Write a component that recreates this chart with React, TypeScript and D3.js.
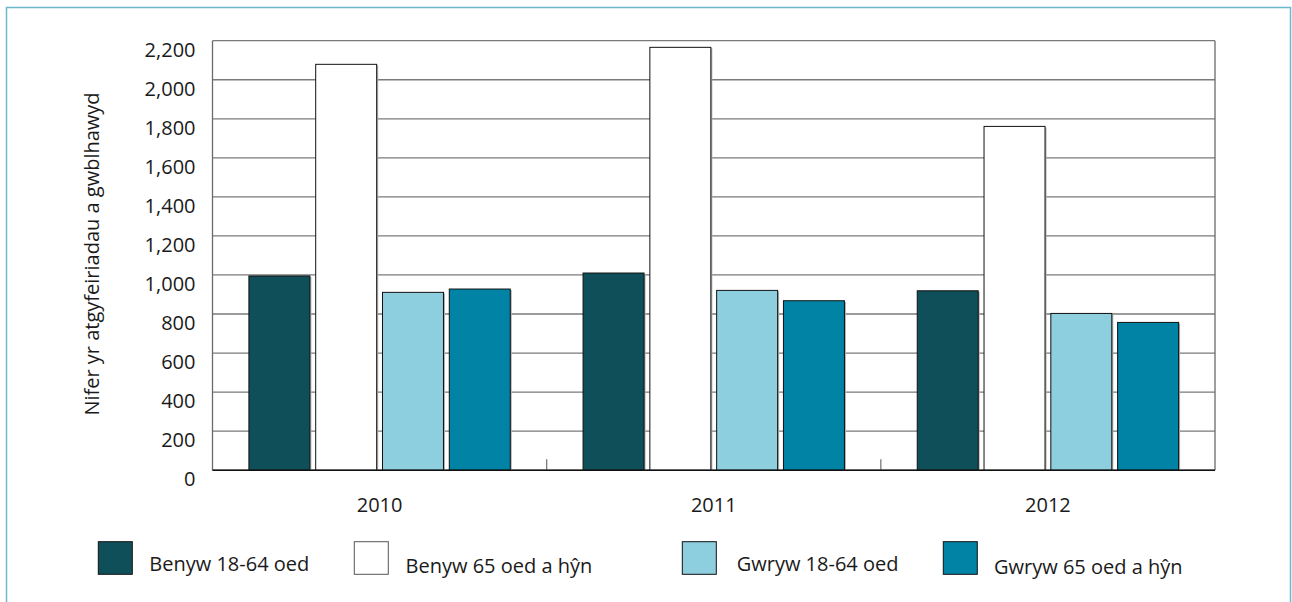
import React from "react";
import * as d3 from "d3";

const years = ["2010", "2011", "2012"];
const seriesNames = [
  "Benyw 18-64 oed",
  "Benyw 65 oed a hŷn",
  "Gwryw 18-64 oed",
  "Gwryw 65 oed a hŷn",
];
const benyw1864 = [995, 1010, 919];
const benyw65 = [2079, 2166, 1761];
const gwryw1864 = [911, 921, 803];
const gwryw65 = [928, 868, 757];
const seriesValues = [benyw1864, benyw65, gwryw1864, gwryw65];
const seriesColors = ["#0f4f59", "#ffffff", "#8dcfde", "#0083a4"];
const yTicks = [0, 200, 400, 600, 800, 1000, 1200, 1400, 1600, 1800, 2000, 2200];
const yTitle = "Nifer yr atgyfeiriadau a gwblhawyd";

const W = 1292;
const H = 602;
const plot = { left: 212.5, right: 1215, top: 40.7, bottom: 470.2 };
const FONT = "'Open Sans', 'Noto Sans', sans-serif";

// legend layout (swatch x, text x, text baseline)
const legendLayout = [
  { sx: 98.3, tx: 149.3, ty: 570.7 },
  { sx: 354.3, tx: 405.5, ty: 573 },
  { sx: 682.3, tx: 736.7, ty: 570.7 },
  { sx: 943.3, tx: 994, ty: 573.5 },
];

export default function App() {
  const x0 = d3
    .scaleBand<string>()
    .domain(years)
    .range([plot.left, plot.right])
    .paddingInner(0)
    .paddingOuter(0);
  const x1 = d3
    .scaleBand<string>()
    .domain(seriesNames)
    .range([0, x0.bandwidth()])
    .paddingInner(0.087)
    .paddingOuter(0.545);
  const y = d3.scaleLinear().domain([0, 2200]).range([plot.bottom, plot.top]);
  const fmt = d3.format(",");

  const boundaries = years.slice(1).map((yr) => x0(yr) as number);

  return (
    <svg
      width={W}
      height={H}
      style={{ position: "absolute", left: 0, top: 0, background: "#fff" }}
      fontFamily={FONT}
    >
      <rect x={0} y={0} width={W} height={H} fill="#fff" />
      {/* outer border */}
      <rect
        x={6.5}
        y={7.5}
        width={1284}
        height={H + 20}
        fill="none"
        stroke="#6cb8cc"
        strokeWidth={1.5}
      />

      {/* gridlines */}
      {yTicks.map((t) => (
        <line
          key={"g" + t}
          x1={plot.left}
          x2={plot.right}
          y1={y(t)}
          y2={y(t)}
          stroke="#7a7a7a"
          strokeWidth={1.3}
        />
      ))}
      {/* left and right frame */}
      <line x1={plot.left} x2={plot.left} y1={plot.top} y2={plot.bottom} stroke="#6a6a6a" strokeWidth={1.3} />
      <line x1={plot.right} x2={plot.right} y1={plot.top} y2={plot.bottom} stroke="#6a6a6a" strokeWidth={1.3} />

      {/* category separator ticks */}
      {boundaries.map((bx, i) => (
        <line key={"tk" + i} x1={bx} x2={bx} y1={plot.bottom} y2={plot.bottom - 11} stroke="#7a7a7a" strokeWidth={1.3} />
      ))}

      {/* bars */}
      {years.map((yr, gi) => (
        <g key={yr} transform={`translate(${x0(yr)},0)`}>
          {seriesNames.map((s, si) => {
            const v = seriesValues[si][gi];
            const bx = x1(s) as number;
            const by = y(v);
            const bh = plot.bottom - by;
            return (
              <g key={s}>
                <rect x={bx + 1.5} y={by + 1} width={x1.bandwidth()} height={bh - 1} fill="#b0b0b0" />
                <rect
                  x={bx}
                  y={by}
                  width={x1.bandwidth()}
                  height={bh}
                  fill={seriesColors[si]}
                  stroke="#111"
                  strokeWidth={1}
                />
              </g>
            );
          })}
        </g>
      ))}

      {/* x axis line */}
      <line x1={plot.left} x2={plot.right} y1={plot.bottom} y2={plot.bottom} stroke="#111" strokeWidth={1.5} />

      {/* y tick labels */}
      {yTicks.map((t) => (
        <text
          key={"yl" + t}
          x={195.5}
          y={y(t) + 16}
          textAnchor="end"
          fontSize={20}
          fill="#1a1a1a"
        >
          {fmt(t)}
        </text>
      ))}

      {/* x labels */}
      {years.map((yr) => (
        <text
          key={"xl" + yr}
          x={(x0(yr) as number) + x0.bandwidth() / 2}
          y={511.7}
          textAnchor="middle"
          fontSize={20}
          fill="#1a1a1a"
        >
          {yr}
        </text>
      ))}

      {/* y title */}
      <text
        transform={`translate(99,254) rotate(-90)`}
        textAnchor="middle"
        fontSize={20}
        fill="#1a1a1a"
      >
        {yTitle}
      </text>

      {/* legend */}
      {seriesNames.map((s, i) => {
        const L = legendLayout[i];
        return (
          <g key={"lg" + s}>
            <rect
              x={L.sx}
              y={541.7}
              width={34}
              height={32.6}
              fill={seriesColors[i]}
              stroke={i === 1 ? "#555" : "#111"}
              strokeWidth={1}
            />
            <text x={L.tx} y={L.ty} fontSize={20} fill="#1a1a1a">
              {s}
            </text>
          </g>
        );
      })}
    </svg>
  );
}
